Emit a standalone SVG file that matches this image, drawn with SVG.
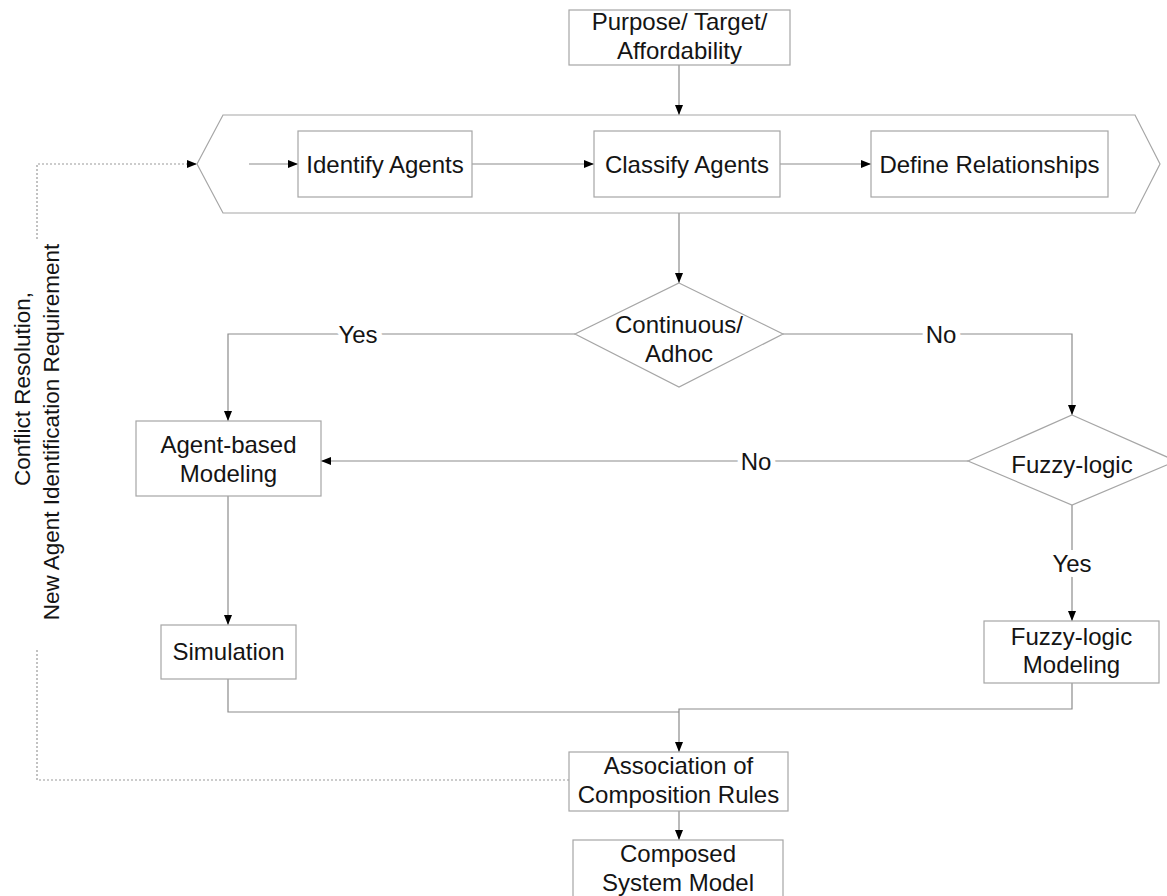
<svg xmlns="http://www.w3.org/2000/svg" width="1167" height="896" viewBox="0 0 1167 896">
  <defs>
    <marker id="arrow" markerUnits="userSpaceOnUse" markerWidth="10" markerHeight="8" refX="10" refY="4" orient="auto">
      <path d="M0,0 L10,4 L0,8 z" fill="#000"/>
    </marker>
    <style>
      .box { fill: #fff; stroke: #a6a6a6; stroke-width: 1.2; }
      .line { fill: none; stroke: #8c8c8c; stroke-width: 1.2; }
      .dotted { fill: none; stroke: #9a9a9a; stroke-width: 1.2; stroke-dasharray: 2 2; }
      .lbl { font-family: "Liberation Sans", Arial, sans-serif; font-size: 24px; fill: #141414; text-anchor: middle; }
      .side { font-size: 22.5px; }
      .onl { paint-order: stroke; stroke: #fff; stroke-width: 10px; }
    </style>
  </defs>
  <rect width="1167" height="896" fill="#fff"/>

  <!-- connectors -->
  <g id="connectors">
    <path class="line" d="M679,65 V115" marker-end="url(#arrow)"/>
    <path class="line" d="M249,164 H298" marker-end="url(#arrow)"/>
    <path class="line" d="M472,164 H594" marker-end="url(#arrow)"/>
    <path class="line" d="M780,164 H871" marker-end="url(#arrow)"/>
    <path class="line" d="M679,213 V283" marker-end="url(#arrow)"/>
    <path class="line" d="M575,334 H228 V421" marker-end="url(#arrow)"/>
    <path class="line" d="M783,334 H1072 V415" marker-end="url(#arrow)"/>
    <path class="line" d="M968,461 H321" marker-end="url(#arrow)"/>
    <path class="line" d="M228,496 V625" marker-end="url(#arrow)"/>
    <path class="line" d="M1072,505 V621" marker-end="url(#arrow)"/>
    <path class="line" d="M228,679 V712 H679"/>
    <path class="line" d="M1072,683 V709 H679 V752" marker-end="url(#arrow)"/>
    <path class="line" d="M679,811 V840" marker-end="url(#arrow)"/>
    <!-- feedback loop; gap left for its rotated label -->
    <path class="dotted" d="M569,780 H37 V650 M37,239 V164 H197" marker-end="url(#arrow)"/>
    <text class="lbl onl" x="358" y="343">Yes</text>
    <text class="lbl onl" x="941" y="343">No</text>
    <text class="lbl onl" x="756" y="470">No</text>
    <text class="lbl onl" x="1072" y="572">Yes</text>
    <g class="lbl side" transform="rotate(-90)">
      <text x="-389" y="30">Conflict Resolution,</text>
      <text x="-432" y="59">New Agent Identification Requirement</text>
    </g>
  </g>

  <g id="purpose">
    <rect class="box" x="569" y="10" width="221" height="55"/>
    <text class="lbl" x="679.5" y="30">Purpose/ Target/</text>
    <text class="lbl" x="679.5" y="59">Affordability</text>
  </g>

  <g id="agent-stage">
    <path class="box" style="fill:none" d="M223,115 H1135 L1160,164 L1135,213 H223 L197,164 Z"/>
  </g>

  <g id="identify-agents">
    <rect class="box" x="298" y="131" width="174" height="66"/>
    <text class="lbl" x="385" y="173">Identify Agents</text>
  </g>

  <g id="classify-agents">
    <rect class="box" x="594" y="131" width="186" height="66"/>
    <text class="lbl" x="687" y="173">Classify Agents</text>
  </g>

  <g id="define-relationships">
    <rect class="box" x="871" y="131" width="237" height="66"/>
    <text class="lbl" x="989.5" y="173">Define Relationships</text>
  </g>

  <g id="continuous-adhoc">
    <path class="box" d="M679,283 L783,334 L679,387 L575,334 Z"/>
    <text class="lbl" x="679" y="333">Continuous/</text>
    <text class="lbl" x="679" y="362">Adhoc</text>
  </g>

  <g id="fuzzy-logic">
    <path class="box" d="M1072,415 L1176,461 L1072,505 L968,461 Z"/>
    <text class="lbl" x="1072" y="473">Fuzzy-logic</text>
  </g>

  <g id="agent-based-modeling">
    <rect class="box" x="136" y="421" width="185" height="75"/>
    <text class="lbl" x="228.5" y="453">Agent-based</text>
    <text class="lbl" x="228.5" y="482">Modeling</text>
  </g>

  <g id="simulation">
    <rect class="box" x="161" y="625" width="135" height="54"/>
    <text class="lbl" x="228.5" y="660">Simulation</text>
  </g>

  <g id="fuzzy-logic-modeling">
    <rect class="box" x="984" y="621" width="175" height="62"/>
    <text class="lbl" x="1071.5" y="645">Fuzzy-logic</text>
    <text class="lbl" x="1071.5" y="673">Modeling</text>
  </g>

  <g id="association">
    <rect class="box" x="569" y="752" width="219" height="59"/>
    <text class="lbl" x="678.5" y="774">Association of</text>
    <text class="lbl" x="678.5" y="803">Composition Rules</text>
  </g>

  <g id="composed-model">
    <rect class="box" x="573" y="840" width="210" height="62"/>
    <text class="lbl" x="678" y="862">Composed</text>
    <text class="lbl" x="678" y="891">System Model</text>
  </g>
</svg>
